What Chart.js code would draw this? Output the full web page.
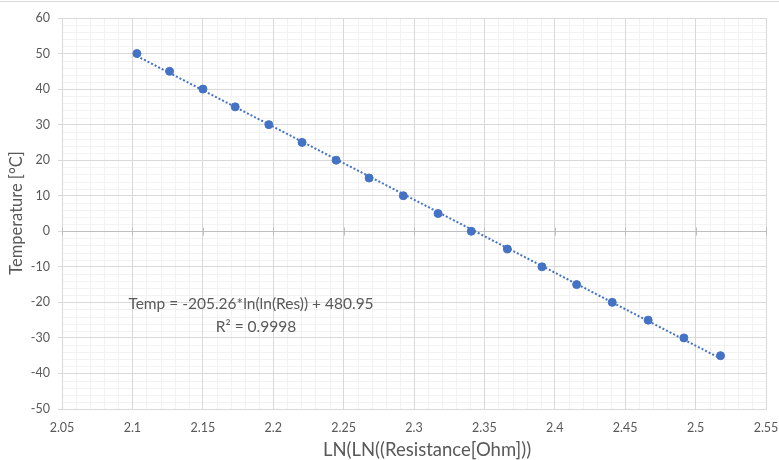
<!DOCTYPE html>
<html>
<head>
<meta charset="utf-8">
<script src="https://cdn.jsdelivr.net/npm/chart.js@4.4.1/dist/chart.umd.min.js"></script>
<style>
  html, body { margin: 0; padding: 0; background: #ffffff; }
  #wrap { position: relative; width: 779px; height: 460px; overflow: hidden; }
  #topline { position: absolute; left: 0; top: 1px; width: 779px; height: 0; border-top: 1px solid #d9d9d9; }
  canvas { display: block; }
</style>
</head>
<body>
<div id="wrap">
  <canvas id="c" width="779" height="460"></canvas>
  <div id="topline"></div>
</div>
<script>
// ---- data ----
const lnLnResistance = [2.1032, 2.1264, 2.1501, 2.1730, 2.1969, 2.2205, 2.2447, 2.2681, 2.2924,
                        2.3171, 2.3407, 2.3663, 2.3909, 2.4155, 2.4408, 2.4663, 2.4917, 2.5177];
const temperatures = [50, 45, 40, 35, 30, 25, 20, 15, 10, 5, 0, -5, -10, -15, -20, -25, -30, -35];

const xRange = [2.05, 2.55];
const xStep = 0.05;
const xMinorStep = 0.01;
const yRange = [-50, 60];
const yStep = 10;
const yMinorStep = 2;

const xAxisTitle = 'LN(LN((Resistance[Ohm]))';
const yAxisTitle = 'Temperature [°C]';
const equationLines = ['Temp = -205.26*ln(ln(Res)) + 480.95', 'R² = 0.9998'];

// ---- linear regression for trendline ----
function linFit(xs, ys) {
  const n = xs.length;
  let sx = 0, sy = 0, sxx = 0, sxy = 0;
  for (let i = 0; i < n; i++) { sx += xs[i]; sy += ys[i]; sxx += xs[i]*xs[i]; sxy += xs[i]*ys[i]; }
  const m = (n*sxy - sx*sy) / (n*sxx - sx*sx);
  const b = (sy - m*sx) / n;
  return {m, b};
}
const fit = linFit(lnLnResistance, temperatures);
const xLo = Math.min(...lnLnResistance), xHi = Math.max(...lnLnResistance);
const trendPoints = [{x: xLo, y: fit.m*xLo + fit.b}, {x: xHi, y: fit.m*xHi + fit.b}];
const scatterPoints = lnLnResistance.map((x, i) => ({x, y: temperatures[i]}));

const BLUE = '#4472C4';
const TEXT = '#595959';
const FONT = 'Lato, "Open Sans", sans-serif';

const decorPlugin = {
  id: 'decor',
  beforeDraw(chart) {
    const {ctx, chartArea: a} = chart;
    const xs = chart.scales.x, ys = chart.scales.y;
    ctx.save();
    ctx.fillStyle = '#ffffff';
    ctx.fillRect(0, 0, chart.width, chart.height);
    ctx.strokeStyle = '#f2f2f2';
    ctx.lineWidth = 1;
    ctx.beginPath();
    const nx = Math.round((xRange[1] - xRange[0]) / xMinorStep);
    for (let i = 1; i < nx; i++) {
      if (i % 5 === 0) continue;
      const px = Math.round(xs.getPixelForValue(xRange[0] + i * xMinorStep)) + 0.5;
      ctx.moveTo(px, a.top); ctx.lineTo(px, a.bottom);
    }
    const ny = Math.round((yRange[1] - yRange[0]) / yMinorStep);
    for (let i = 1; i < ny; i++) {
      if (i % 5 === 0) continue;
      const py = Math.round(ys.getPixelForValue(yRange[0] + i * yMinorStep)) + 0.5;
      ctx.moveTo(a.left, py); ctx.lineTo(a.right, py);
    }
    ctx.stroke();
    ctx.restore();
  },
  beforeDatasetsDraw(chart) {
    const {ctx, chartArea: a} = chart;
    const xs = chart.scales.x, ys = chart.scales.y;
    ctx.save();
    ctx.strokeStyle = '#bfbfbf';
    ctx.lineWidth = 1;
    const py = Math.round(ys.getPixelForValue(0)) + 0.5;
    ctx.beginPath();
    ctx.moveTo(a.left, py); ctx.lineTo(a.right, py);
    const nx = Math.round((xRange[1] - xRange[0]) / xStep);
    for (let i = 0; i <= nx; i++) {
      const px = Math.round(xs.getPixelForValue(xRange[0] + i * xStep)) + 0.5;
      ctx.moveTo(px, py - 4); ctx.lineTo(px, py + 4);
    }
    ctx.stroke();
    ctx.restore();
  },
  afterDraw(chart) {
    const {ctx, chartArea: a} = chart;
    ctx.save();
    ctx.fillStyle = TEXT;
    ctx.textBaseline = 'middle';
    ctx.textAlign = 'center';
    ctx.font = '18.5px ' + FONT;
    ctx.fillText(xAxisTitle, 427, 450);
    ctx.font = '16.5px ' + FONT;
    ctx.save();
    ctx.translate(17, 213);
    ctx.rotate(-Math.PI / 2);
    ctx.fillText(yAxisTitle, 0, 0);
    ctx.restore();
    ctx.font = '15.5px ' + FONT;
    ctx.fillText(equationLines[0], 251, 304);
    ctx.fillText(equationLines[1], 256, 327);
    ctx.restore();
  }
};

new Chart(document.getElementById('c'), {
  type: 'scatter',
  data: {
    datasets: [
      {
        label: 'Temperature',
        data: scatterPoints,
        backgroundColor: BLUE,
        borderColor: BLUE,
        pointRadius: 4,
        pointBorderWidth: 1,
        order: 0
      },
      {
        label: 'Trend',
        type: 'line',
        data: trendPoints,
        showLine: true,
        borderColor: BLUE,
        borderWidth: 2,
        borderDash: [2, 2],
        pointRadius: 0,
        fill: false,
        order: 1
      }
    ]
  },
  options: {
    responsive: false,
    animation: false,
    layout: { padding: { top: 18, right: 13, left: 0, bottom: 0 } },
    plugins: { legend: { display: false }, tooltip: { enabled: false } },
    scales: {
      x: {
        type: 'linear',
        min: xRange[0], max: xRange[1],
        ticks: {
          stepSize: xStep,
          color: TEXT,
          font: { family: FONT, size: 12.5 },
          padding: 11,
          maxRotation: 0,
          callback: v => String(parseFloat(Number(v).toFixed(2)))
        },
        grid: { color: '#d9d9d9', drawTicks: false },
        border: { display: true, color: '#d9d9d9' },
        afterFit(s) { s.height = 51; s.paddingLeft = 0; s.paddingRight = 0; }
      },
      y: {
        type: 'linear',
        min: yRange[0], max: yRange[1],
        ticks: {
          stepSize: yStep,
          color: TEXT,
          font: { family: FONT, size: 12.5 },
          padding: 8
        },
        grid: { color: '#d9d9d9', tickLength: 4, tickColor: '#d9d9d9' },
        border: { display: true, color: '#d9d9d9' },
        afterFit(s) { s.width = 62; s.paddingTop = 0; s.paddingBottom = 0; }
      }
    }
  },
  plugins: [decorPlugin]
});
</script>
</body>
</html>
